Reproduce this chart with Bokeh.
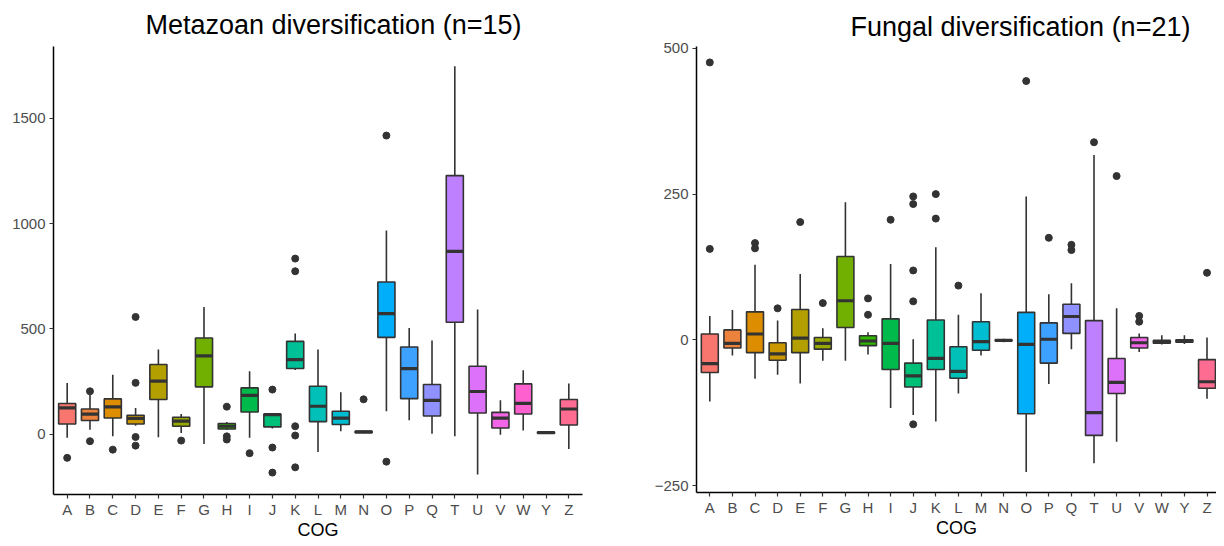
import math
from bokeh.plotting import figure
from bokeh.layouts import row
from bokeh.models import Range1d, FixedTicker, ColumnDataSource, Title
from bokeh.embed import file_html
from bokeh.resources import INLINE

# ---------------- data ----------------
cogs = ["A", "B", "C", "D", "E", "F", "G", "H", "I", "J", "K", "L", "M",
        "N", "O", "P", "Q", "T", "U", "V", "W", "Y", "Z"]

# Metazoan diversification (n=15): box statistics per COG
meta_lower = [-17, 22, -9, 40, -14, 6, -46, 20, -17, 27, 305, -84, 14, 5, 109, 66, 3, -9, -191, -2, 18, 3, -70]
meta_q1 = [49, 65, 77, 49, 165, 38, 225, 25, 106, 35, 312, 60, 46, 8, 460, 169, 87, 532, 101, 30, 96, 5, 44]
meta_med = [125, 96, 130, 75, 252, 62, 372, 38, 185, 93, 354, 133, 77, 11, 573, 312, 161, 868, 203, 77, 147, 8, 120]
meta_q3 = [146, 120, 168, 90, 331, 81, 457, 51, 220, 96, 441, 228, 109, 14, 723, 414, 236, 1228, 323, 104, 239, 11, 165]
meta_upper = [243, 188, 283, 125, 402, 96, 604, 58, 299, 100, 478, 402, 199, 17, 968, 505, 445, 1747, 592, 161, 304, 13, 241]
meta_out_cog = ["A", "B", "B", "C", "D", "D", "D", "D", "F", "H", "H", "H", "I",
                "J", "J", "J", "K", "K", "K", "K", "K", "N", "O", "O"]
meta_out_val = [-112, 204, -33, -73, 557, 244, -13, -54, -30, 131, -10, -25, -90,
                212, -63, -182, 834, 774, 38, -6, -157, 166, 1418, -130]

# Fungal diversification (n=21): box statistics per COG
fung_lower = [-106, -27, -67, -60, -75, -36, -36, -25, -117, -129, -140, -92, -27, -4, -227, -76, -16, -212, -175, -21, -8, -7, -101]
fung_q1 = [-56, -14, -22, -35, -22, -16, 21, -10, -51, -81, -51, -66, -18, -2, -127, -40, 11, -164, -92, -14, -6, -4, -83]
fung_med = [-41, -6, 10, -24, 3, -6, 67, -2, -6, -62, -32, -54, -3, -1, -8, 1, 40, -125, -73, -5, -3, -2, -72]
fung_q3 = [10, 17, 48, -5, 52, 4, 143, 7, 36, -40, 34, -12, 31, 0, 47, 29, 61, 33, -32, 4, -1, 0, -34]
fung_upper = [41, 51, 129, 33, 113, 20, 236, 13, 130, 1, 159, 43, 80, 2, 246, 78, 97, 317, 54, 11, 8, 8, 4]
fung_out_cog = ["A", "A", "C", "C", "D", "E", "F", "H", "H", "I", "J", "J", "J", "J", "J",
                "K", "K", "L", "O", "P", "Q", "Q", "T", "U", "V", "V", "Z"]
fung_out_val = [476, 156, 166, 157, 54, 202, 63, 71, 43, 206, 246, 233, 119, 66, -145,
                250, 208, 93, 444, 175, 163, 154, 339, 281, 41, 31, 115]

meta_yticks = [0, 500, 1000, 1500]
fung_yticks = [-250, 0, 250, 500]


# ---------------- colours (ggplot2 default hue palette) ----------------
def hcl_hex(h, c=100.0, l=65.0):
    Xn, Yn, Zn = 95.047, 100.0, 108.883
    hr = math.radians(h)
    U = c * math.cos(hr)
    V = c * math.sin(hr)
    Y = Yn * ((l + 16) / 116) ** 3
    t = Xn + Yn + Zn
    x = Xn / t
    y = Yn / t
    uN = 2 * x / (6 * y - x + 1.5)
    vN = 4.5 * y / (6 * y - x + 1.5)
    u = U / (13 * l) + uN
    v = V / (13 * l) + vN
    X = 9.0 * Y * u / (4 * v)
    Z = -X / 3 - 5 * Y + 3 * Y / v
    X, Y, Z = X / 100, Y / 100, Z / 100
    R = 3.240479 * X - 1.537150 * Y - 0.498535 * Z
    G = -0.969256 * X + 1.875992 * Y + 0.041556 * Z
    B = 0.055648 * X - 0.204043 * Y + 1.057311 * Z

    def g(cc):
        cc = 1.055 * cc ** (1 / 2.4) - 0.055 if cc > 0.0031308 else 12.92 * cc
        return int(round(max(0.0, min(1.0, cc)) * 255))
    return "#%02X%02X%02X" % (g(R), g(G), g(B))


n = len(cogs)
colors = [hcl_hex(15 + i * 360.0 / n) for i in range(n)]

FONT = "Liberation Sans"
OUTLINE = "#333333"


def make_panel(title, title_offset, title_standoff, lower, q1, med, q3, upper, out_cog, out_val,
               y_start, y_end, yticks, x_start, x_end,
               width, frame_w, frame_h, bl, bt, bb, br):
    p = figure(width=width, height=bt + frame_h + bb,
               output_backend="svg", toolbar_location=None,
               x_range=Range1d(x_start, x_end), y_range=Range1d(y_start, y_end),
               min_border_left=bl, min_border_right=br,
               min_border_top=bt, min_border_bottom=bb)
    p.frame_width = frame_w
    p.frame_height = frame_h
    p.title = Title(text=title, align="left", offset=title_offset,
                    standoff=title_standoff,
                    text_font=FONT, text_font_size="27px",
                    text_font_style="normal", text_color="black")
    p.outline_line_color = None
    p.xgrid.visible = False
    p.ygrid.visible = False
    p.background_fill_color = "white"
    p.border_fill_color = "white"

    xs = [i + 1 for i in range(len(cogs))]
    half = 0.375
    src = ColumnDataSource(dict(x=xs, lower=lower, q1=q1, med=med, q3=q3,
                                upper=upper, color=colors,
                                x0=[v - half for v in xs], x1=[v + half for v in xs]))
    p.segment(x0="x", y0="q3", x1="x", y1="upper", source=src,
              line_color=OUTLINE, line_width=1.6)
    p.segment(x0="x", y0="q1", x1="x", y1="lower", source=src,
              line_color=OUTLINE, line_width=1.6)
    p.vbar(x="x", width=2 * half, top="q3", bottom="q1", source=src,
           fill_color="color", line_color=OUTLINE, line_width=1.6)
    p.segment(x0="x0", y0="med", x1="x1", y1="med", source=src,
              line_color=OUTLINE, line_width=3.2)

    ox = [cogs.index(c) + 1 for c in out_cog]
    p.scatter(x=ox, y=out_val, size=7, fill_color=OUTLINE, line_color=OUTLINE)

    # axes
    xa = p.xaxis[0]
    xa.ticker = FixedTicker(ticks=xs)
    xa.major_label_overrides = {i + 1: c for i, c in enumerate(cogs)}
    xa.axis_label = "COG"
    xa.axis_label_text_font = FONT
    xa.axis_label_text_font_size = "18px"
    xa.axis_label_text_font_style = "normal"
    xa.axis_label_text_color = "black"
    xa.axis_label_standoff = -1

    ya = p.yaxis[0]
    ya.ticker = FixedTicker(ticks=yticks)
    ya.major_label_overrides = {t: (("\u2212" + str(-t)) if t < 0 else str(t)) for t in yticks}

    for ax in (xa, ya):
        ax.axis_line_color = "black"
        ax.axis_line_width = 1.5
        ax.major_tick_line_color = "#333333"
        ax.major_tick_line_width = 1.2
        ax.major_tick_out = 4
        ax.major_tick_in = 0
        ax.minor_tick_line_color = None
        ax.major_label_text_font = FONT
        ax.major_label_text_font_size = "15px"
        ax.major_label_text_color = "#4D4D4D"
    xa.major_label_standoff = 2
    ya.major_label_standoff = 4
    return p


p1 = make_panel("Metazoan diversification (n=15)", 92, 14,
                meta_lower, meta_q1, meta_med, meta_q3, meta_upper,
                meta_out_cog, meta_out_val,
                -286, 1841, meta_yticks, 0.4, 23.6,
                width=620, frame_w=529, frame_h=448, bl=53, bt=37, bb=45, br=38)

p2 = make_panel("Fungal diversification (n=21)", 154, 10,
                fung_lower, fung_q1, fung_med, fung_q3, fung_upper,
                fung_out_cog, fung_out_val,
                -262, 503.3, fung_yticks, 0.411, 23.42,
                width=596, frame_w=520, frame_h=446, bl=76, bt=34, bb=50, br=0)

layout = row(p1, p2)
open("out.html", "w").write(file_html(layout, INLINE))
